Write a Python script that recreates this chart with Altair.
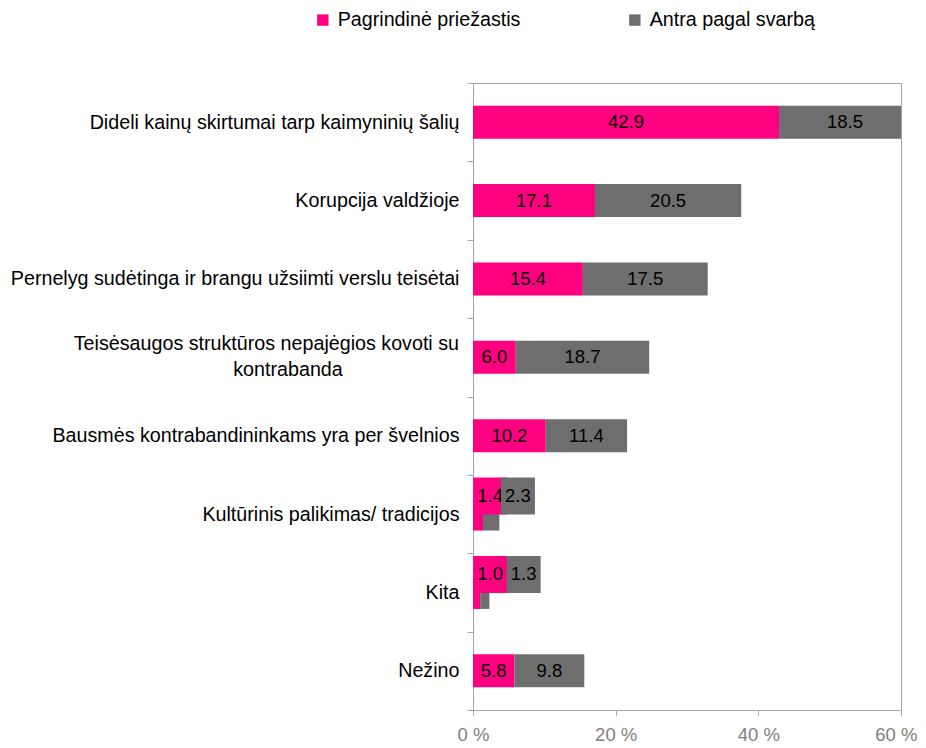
import altair as alt
import pandas as pd

categories = [
    "Dideli kainų skirtumai tarp kaimyninių šalių",
    "Korupcija valdžioje",
    "Pernelyg sudėtinga ir brangu užsiimti verslu teisėtai",
    "Teisėsaugos struktūros nepajėgios kovoti su kontrabanda",
    "Bausmės kontrabandininkams yra per švelnios",
    "Kultūrinis palikimas/ tradicijos",
    "Kita",
    "Nežino",
]
main_reason = [42.9, 17.1, 15.4, 6.0, 10.2, 1.4, 1.0, 5.8]
second_reason = [18.5, 20.5, 17.5, 18.7, 11.4, 2.3, 1.3, 9.8]
series_names = ["Pagrindinė priežastis", "Antra pagal svarbą"]
colors = ["#FF0080", "#6E6E6E"]
# label anchor positions (data units) used where the bars are too thin for labels
small_label_main = {"Kultūrinis palikimas/ tradicijos": 2.4, "Kita": 2.4}
small_label_second = {"Kultūrinis palikimas/ tradicijos": 6.3, "Kita": 7.1}
x_ticks = [0, 20, 40, 60]

multi_cat = "Teisėsaugos struktūros nepajėgios kovoti su kontrabanda"
multi_line1 = "Teisėsaugos struktūros nepajėgios kovoti su"
multi_line2 = "kontrabanda"

rows = []
for c, m, s in zip(categories, main_reason, second_reason):
    small = c in small_label_main
    rows.append(dict(cat=c, series=series_names[0], value=m, start=0.0, end=m,
                     lbl=small_label_main.get(c, m / 2), small=small))
    rows.append(dict(cat=c, series=series_names[1], value=s, start=m, end=m + s,
                     lbl=small_label_second.get(c, m + s / 2), small=small))
df = pd.DataFrame(rows)
df["txt"] = df["value"].map(lambda v: f"{v:.1f}")

FONT = "Liberation Sans"
CAT_SIZE = 19.7
VAL_SIZE = 18.5

y_enc = alt.Y(
    "cat:N",
    sort=categories,
    scale=alt.Scale(paddingInner=0, paddingOuter=0),
    axis=alt.Axis(
        title=None,
        labelFontSize=CAT_SIZE,
        labelColor="#000000",
        labelFont=FONT,
        labelLimit=600,
        labelPadding=8,
        tickSize=6,
        tickBand="extent",
        tickColor="#A6A6A6",
        domainColor="#A6A6A6",
        labelExpr=f"datum.value == '{multi_cat}' ? '' : datum.label",
    ),
)
x_scale = alt.Scale(domain=[0, 60], nice=False)
x_axis = alt.Axis(
    title=None,
    values=x_ticks,
    labelExpr="datum.value + ' %'",
    labelFontSize=VAL_SIZE,
    labelColor="#808080",
    labelFont=FONT,
    labelFlush=True,
    labelFlushOffset=16,
    labelPadding=10,
    tickSize=5,
    tickColor="#A6A6A6",
    domainColor="#A6A6A6",
    grid=False,
)
color_scale = alt.Scale(domain=series_names, range=colors)
color_enc = alt.Color(
    "series:N",
    scale=color_scale,
    sort=series_names,
    legend=alt.Legend(
        title=None,
        orient="none",
        legendX=-160,
        legendY=-73,
        direction="horizontal",
        symbolType="square",
        symbolSize=130,
        symbolStrokeWidth=0,
        symbolOpacity=1,
        labelFontSize=CAT_SIZE,
        labelFont=FONT,
        labelColor="#000000",
        labelLimit=600,
        labelOffset=5,
        columnPadding=104,
    ),
)

base = alt.Chart(df)
y_plain = alt.Y("cat:N", sort=categories)

bars = base.mark_bar(size=33, clip=True).encode(
    y=y_enc,
    x=alt.X("start:Q", scale=x_scale, axis=x_axis),
    x2="end:Q",
    color=color_enc,
)

labels = base.transform_filter("!datum.small").mark_text(
    fontSize=VAL_SIZE, font=FONT, color="#000000"
).encode(
    y=y_plain,
    x=alt.X("lbl:Q", scale=x_scale),
    text="txt:N",
)

small_layers = []
for sname in series_names:
    sdf = df[df["small"] & (df["series"] == sname)]
    box = alt.Chart(sdf).mark_bar(size=37, yOffset=-18, xOffset=-17, x2Offset=17).encode(
        y=y_plain,
        x=alt.X("lbl:Q", scale=x_scale),
        x2="lbl:Q",
        color=alt.Color("series:N", scale=color_scale, legend=None),
    )
    txt = alt.Chart(sdf).mark_text(
        fontSize=VAL_SIZE, font=FONT, color="#000000", yOffset=-18
    ).encode(
        y=y_plain,
        x=alt.X("lbl:Q", scale=x_scale),
        text="txt:N",
    )
    small_layers += [box, txt]

multi_df = pd.DataFrame({"cat": [multi_cat], "l1": [multi_line1], "l2": [multi_line2]})
multi_1 = alt.Chart(multi_df).mark_text(
    fontSize=CAT_SIZE, font=FONT, color="#000000", align="right", yOffset=-13
).encode(y=y_plain, x=alt.value(-14), text="l1:N")
multi_2 = alt.Chart(multi_df).mark_text(
    fontSize=CAT_SIZE, font=FONT, color="#000000", align="center", yOffset=13
).encode(y=y_plain, x=alt.value(-185), text="l2:N")

chart = (
    alt.layer(bars, labels, *small_layers, multi_1, multi_2)
    .properties(
        width=428,
        height=627,
        autosize=alt.AutoSizeParams(type="none"),
        padding={"left": 465, "top": 75, "right": 17, "bottom": 38},
        background="white",
    )
    .configure_view(stroke="#A6A6A6", strokeWidth=1)
)

chart.save("out.html", embed_options={"renderer": "svg", "actions": False})
